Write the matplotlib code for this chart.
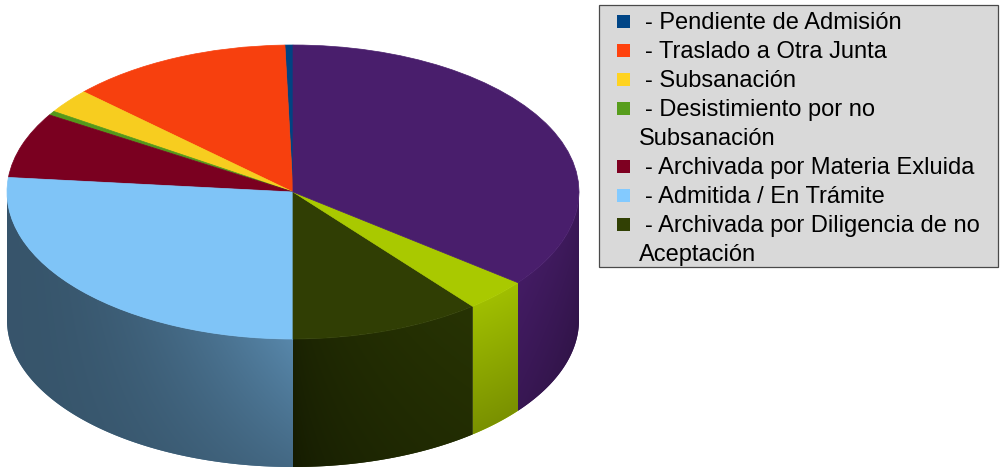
import numpy as np
import matplotlib.pyplot as plt
from matplotlib.patches import Polygon, Rectangle
from matplotlib.transforms import Affine2D
from matplotlib.colors import to_rgb

# slices counter-clockwise from 12 o'clock (last two are not in the legend)
labels = ['Pendiente de Admisión', 'Traslado a Otra Junta', 'Subsanación',
          'Desistimiento por no\nSubsanación', 'Archivada por Materia Exluida',
          'Admitida / En Trámite', 'Archivada por Diligencia de no\nAceptación',
          '', '']
values = [1, 28, 6, 1, 16, 59, 24, 8, 79]
colors = ['#004586', '#ff420e', '#ffd320', '#579d1c', '#7e0021',
          '#83caff', '#314004', '#aecf00', '#4b1f6f']
n_legend = 7

plt.rcParams['font.family'] = ['Liberation Sans', 'DejaVu Sans']

fig = plt.figure(figsize=(10, 4.69), dpi=100)
ax = fig.add_axes([0, 0, 0.59, 1])

# pie geometry in pixel units
cx, cy = 293, 277
a, b = 286, 147
depth = 128

# side shading: (left, right, x exponent, highlight fade with height, drop)
shade = {5: (0.42, 0.67, 1.8, 0.6, 0.0), 6: (0.5, 0.8, 0.5, 0.0, 0.1),
         7: (0.92, 0.92, 1.0, 0.0, 0.22), 8: (0.9, 0.8, 1.0, 0.0, 0.15)}

top_colors = [tuple(0.97 * np.array(to_rgb(c))) for c in colors]
wedges, _ = ax.pie(values, colors=top_colors, startangle=90, counterclock=True,
                   radius=a, center=(0, 0),
                   wedgeprops=dict(linewidth=0.5))
squash = Affine2D().scale(1, b / a).translate(cx, cy) + ax.transData
for w in wedges:
    w.set_transform(squash)
    w.set_edgecolor(w.get_facecolor())
    w.set_zorder(3)

# front side walls
for i, w in enumerate(wedges):
    t1, t2 = max(w.theta1, 180), min(w.theta2, 360)
    if t2 <= t1:
        continue
    ts = np.radians(np.linspace(t1, t2, 200))
    xs = cx + a * np.cos(ts)
    ys = cy + b * np.sin(ts)
    verts = np.vstack([np.column_stack([xs, ys]),
                       np.column_stack([xs[::-1], ys[::-1] - depth])])
    base = np.array(to_rgb(colors[i]))
    fl, fr, ex, k, drop = shade.get(i, (0.7, 0.7, 1.0, 0.0, 0.15))
    x0, x1 = xs.min(), xs.max()
    y0, y1 = ys.min() - depth, ys.max()
    X, Y = np.meshgrid(np.linspace(x0, x1, 300), np.linspace(y0, y1, 200))
    ytop = cy - b * np.sqrt(np.clip(1 - ((X - cx) / a) ** 2, 0, 1))
    yn = np.clip((ytop - Y) / depth, 0, 1)
    xn = (X - x0) / (x1 - x0)
    f = fl + (fr - fl) * xn ** ex * (1 - k * yn) - drop * yn
    rgb = np.clip(base[None, None, :] * f[..., None], 0, 1)
    poly = Polygon(verts, closed=True, facecolor=base * (fl + fr) / 2,
                   edgecolor='none', zorder=1)
    ax.add_patch(poly)
    im = ax.imshow(rgb, extent=(x0, x1, y0, y1), origin='lower',
                   interpolation='bilinear', zorder=2)
    im.set_clip_path(poly)

ax.set_xlim(0, 590)
ax.set_ylim(0, 469)
ax.set_aspect('equal')
ax.axis('off')

# legend drawn in pixel coordinates
lax = fig.add_axes([0, 0, 1, 1])
lax.set_xlim(0, 1000)
lax.set_ylim(469, 0)
lax.axis('off')
lax.add_patch(Rectangle((598.5, 5.5), 399, 262, facecolor='#d9d9d9',
                        edgecolor='#4a4a4a', linewidth=0.9))
line = 0
for lab, col in zip(labels[:n_legend], colors[:n_legend]):
    yc = 21.8 + 29 * line
    lax.add_patch(Rectangle((617, yc - 6.5), 13, 13, facecolor=col,
                            edgecolor='none'))
    parts = lab.split('\n')
    for k, part in enumerate(parts):
        yb = yc + 7.6 + 29 * k
        if k == 0:
            lax.text(645, yb, '- ' + part, fontsize=17, va='baseline',
                     ha='left', color='black')
        else:
            lax.text(639, yb, part, fontsize=17, va='baseline',
                     ha='left', color='black')
    line += len(parts)

fig.savefig('out.png', dpi=100)
